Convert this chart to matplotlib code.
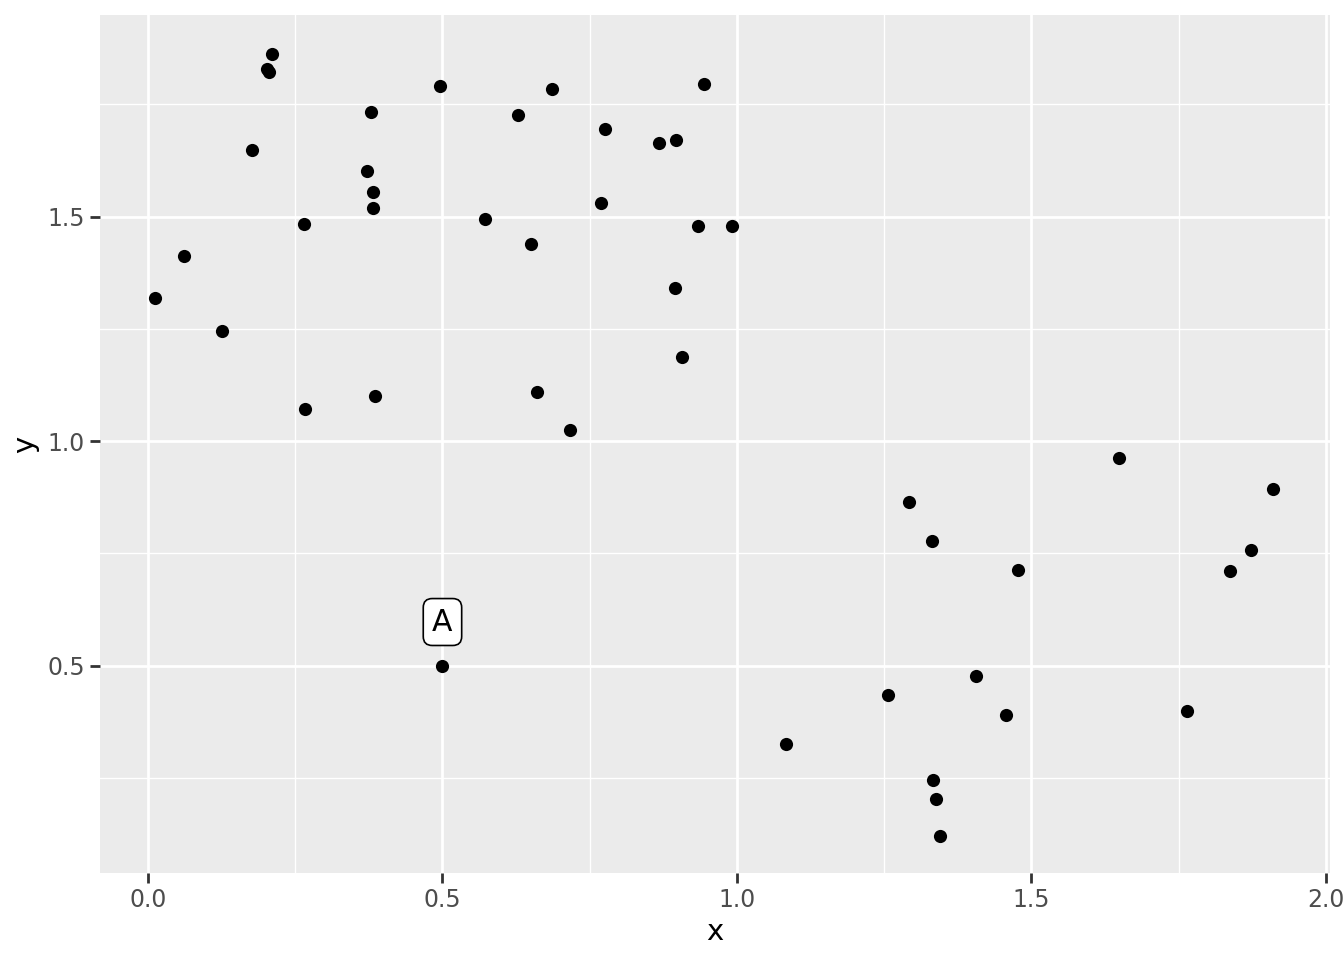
import matplotlib
matplotlib.use("Agg")
import matplotlib.pyplot as plt
from matplotlib.ticker import MultipleLocator

# Data
x = [0.012, 0.061, 0.126, 0.177, 0.202, 0.205, 0.211, 0.265, 0.267, 0.372,
     0.379, 0.382, 0.382, 0.385, 0.496, 0.500, 0.572, 0.628, 0.650, 0.660,
     0.686, 0.716, 0.769, 0.776, 0.868, 0.896, 0.895, 0.907, 0.934, 0.944,
     0.992, 1.083, 1.256, 1.292, 1.331, 1.333, 1.338, 1.345, 1.406, 1.457,
     1.477, 1.649, 1.764, 1.837, 1.873, 1.910]
y = [1.318, 1.412, 1.245, 1.648, 1.829, 1.822, 1.862, 1.483, 1.071, 1.601,
     1.733, 1.555, 1.519, 1.100, 1.791, 0.500, 1.494, 1.726, 1.439, 1.109,
     1.784, 1.024, 1.530, 1.695, 1.664, 1.670, 1.341, 1.187, 1.479, 1.795,
     1.479, 0.325, 0.434, 0.864, 0.777, 0.245, 0.203, 0.120, 0.477, 0.390,
     0.713, 0.962, 0.399, 0.710, 0.757, 0.893]
label_x, label_y, label_text = 0.5, 0.597, "A"

fig = plt.figure(figsize=(13.44, 9.6), dpi=100)
ax = fig.add_axes([100 / 1344, 87 / 960, 1230 / 1344, 858 / 960])
ax.set_facecolor("#EBEBEB")

ax.scatter(x, y, s=90, color="black", linewidths=0, zorder=3)
ax.text(label_x, label_y, label_text, fontsize=21.5, ha="center", va="center",
        zorder=4,
        bbox=dict(boxstyle="round,pad=0.3,rounding_size=0.3", fc="white",
                  ec="black", lw=1.2))

ax.set_xlim(-0.0815, 2.007)
ax.set_ylim(0.038, 1.949)
ax.xaxis.set_major_locator(MultipleLocator(0.5))
ax.yaxis.set_major_locator(MultipleLocator(0.5))
ax.xaxis.set_minor_locator(MultipleLocator(0.25))
ax.yaxis.set_minor_locator(MultipleLocator(0.25))
ax.grid(which="major", color="white", lw=2.0, zorder=1)
ax.grid(which="minor", color="white", lw=1.0, zorder=1)
ax.set_axisbelow(True)
for sp in ax.spines.values():
    sp.set_visible(False)
ax.tick_params(which="major", length=7, width=2, color="#333333",
               labelsize=17, labelcolor="#4D4D4D", pad=4)
ax.tick_params(which="minor", length=0)
ax.set_xticks([0.0, 0.5, 1.0, 1.5, 2.0])
ax.set_xticklabels(["0.0", "0.5", "1.0", "1.5", "2.0"])
ax.set_yticks([0.5, 1.0, 1.5])
ax.set_yticklabels(["0.5", "1.0", "1.5"])
ax.set_xlabel("x", fontsize=21, labelpad=4)
ax.set_ylabel("y", fontsize=21, labelpad=6)

fig.savefig("out.png", dpi=100)
